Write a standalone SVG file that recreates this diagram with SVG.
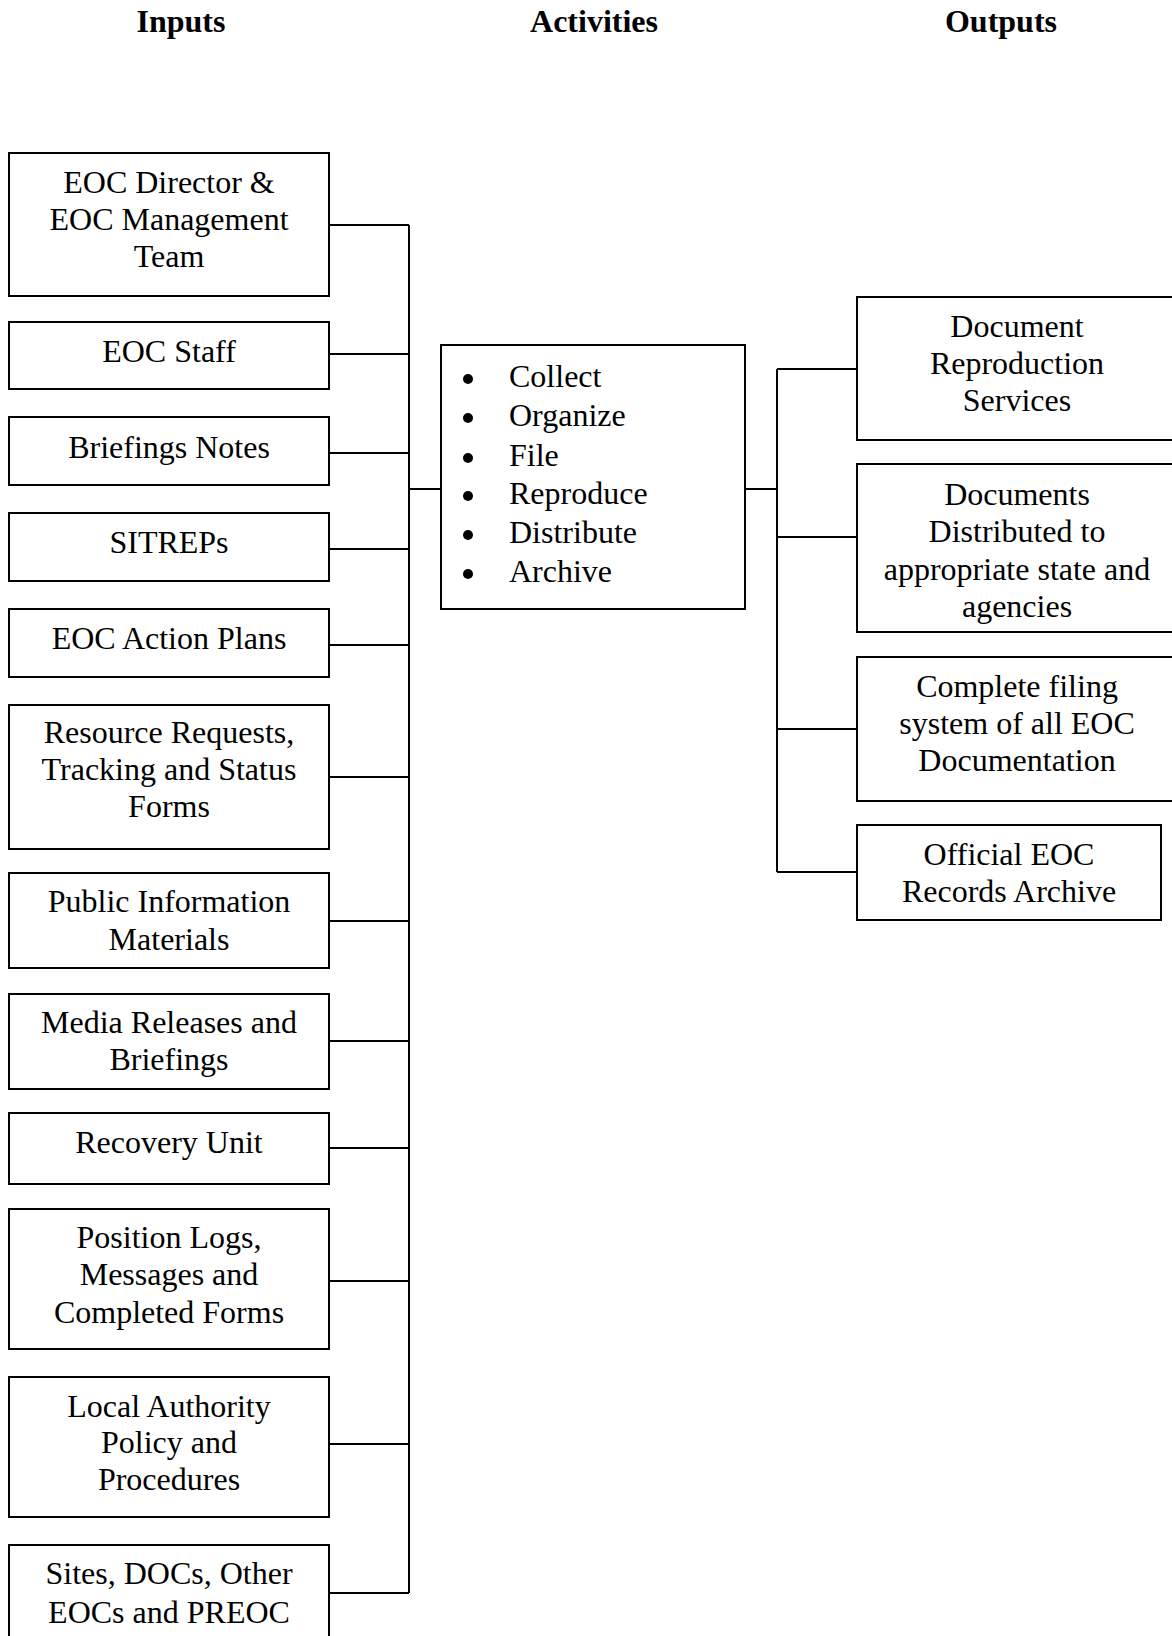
<svg xmlns="http://www.w3.org/2000/svg" width="1172" height="1636" viewBox="0 0 1172 1636">
<style>
.box{fill:#fff;stroke:#000;stroke-width:2}
.t{font-family:"Liberation Serif","Times New Roman",serif;font-size:32px;fill:#000}
.c{text-anchor:middle}
.h{font-family:"Liberation Serif","Times New Roman",serif;font-size:32px;font-weight:bold;text-anchor:middle;fill:#000}
.ln{fill:none;stroke:#000;stroke-width:2}
</style>
<rect width="1172" height="1636" fill="#fff"/>
<g id="headers">
<text class="h" x="181" y="32">Inputs</text>
<text class="h" x="594" y="32">Activities</text>
<text class="h" x="1001" y="32">Outputs</text>
</g>
<g id="connectors">
<path class="ln" d="M409 225V1593M329 225H409M329 354H409M329 453H409M329 549H409M329 645H409M329 777H409M329 921H409M329 1041H409M329 1148H409M329 1281H409M329 1444H409M329 1593H409M409 489H441"/>
<path class="ln" d="M745 489H777M777 369V872M777 369H857M777 537H857M777 729H857M777 872H857"/>
</g>
<g id="in1"><rect class="box" x="9" y="153" width="320" height="143"/><text class="t c" x="169" y="193">EOC Director &amp;</text><text class="t c" x="169" y="230">EOC Management</text><text class="t c" x="169" y="267">Team</text></g>
<g id="in2"><rect class="box" x="9" y="322" width="320" height="67"/><text class="t c" x="169" y="362">EOC Staff</text></g>
<g id="in3"><rect class="box" x="9" y="417" width="320" height="68"/><text class="t c" x="169" y="458">Briefings Notes</text></g>
<g id="in4"><rect class="box" x="9" y="513" width="320" height="68"/><text class="t c" x="169" y="553">SITREPs</text></g>
<g id="in5"><rect class="box" x="9" y="609" width="320" height="68"/><text class="t c" x="169" y="649">EOC Action Plans</text></g>
<g id="in6"><rect class="box" x="9" y="705" width="320" height="144"/><text class="t c" x="169" y="743">Resource Requests,</text><text class="t c" x="169" y="780">Tracking and Status</text><text class="t c" x="169" y="817">Forms</text></g>
<g id="in7"><rect class="box" x="9" y="873" width="320" height="95"/><text class="t c" x="169" y="912">Public Information</text><text class="t c" x="169" y="950">Materials</text></g>
<g id="in8"><rect class="box" x="9" y="994" width="320" height="95"/><text class="t c" x="169" y="1033">Media Releases and</text><text class="t c" x="169" y="1070">Briefings</text></g>
<g id="in9"><rect class="box" x="9" y="1113" width="320" height="71"/><text class="t c" x="169" y="1153">Recovery Unit</text></g>
<g id="in10"><rect class="box" x="9" y="1209" width="320" height="140"/><text class="t c" x="169" y="1248">Position Logs,</text><text class="t c" x="169" y="1285">Messages and</text><text class="t c" x="169" y="1323">Completed Forms</text></g>
<g id="in11"><rect class="box" x="9" y="1377" width="320" height="140"/><text class="t c" x="169" y="1417">Local Authority</text><text class="t c" x="169" y="1453">Policy and</text><text class="t c" x="169" y="1490">Procedures</text></g>
<g id="in12"><rect class="box" x="9" y="1545" width="320" height="100"/><text class="t c" x="169" y="1584">Sites, DOCs, Other</text><text class="t c" x="169" y="1623">EOCs and PREOC</text></g>
<g id="activities"><rect class="box" x="441" y="345" width="304" height="264"/>
<circle cx="468" cy="379" r="5"/><circle cx="468" cy="418" r="5"/><circle cx="468" cy="458" r="5"/><circle cx="468" cy="496" r="5"/><circle cx="468" cy="535" r="5"/><circle cx="468" cy="574" r="5"/>
<text class="t" x="509" y="387">Collect</text><text class="t" x="509" y="426">Organize</text><text class="t" x="509" y="466">File</text><text class="t" x="509" y="504">Reproduce</text><text class="t" x="509" y="543">Distribute</text><text class="t" x="509" y="582">Archive</text></g>
<g id="out1"><rect class="box" x="857" y="297" width="320" height="143"/><text class="t c" x="1017" y="337">Document</text><text class="t c" x="1017" y="374">Reproduction</text><text class="t c" x="1017" y="411">Services</text></g>
<g id="out2"><rect class="box" x="857" y="464" width="320" height="168"/><text class="t c" x="1017" y="505">Documents</text><text class="t c" x="1017" y="542">Distributed to</text><text class="t c" x="1017" y="580">appropriate state and</text><text class="t c" x="1017" y="617">agencies</text></g>
<g id="out3"><rect class="box" x="857" y="657" width="320" height="144"/><text class="t c" x="1017" y="697">Complete filing</text><text class="t c" x="1017" y="734">system of all EOC</text><text class="t c" x="1017" y="771">Documentation</text></g>
<g id="out4"><rect class="box" x="857" y="825" width="304" height="95"/><text class="t c" x="1009" y="865">Official EOC</text><text class="t c" x="1009" y="902">Records Archive</text></g>
</svg>
